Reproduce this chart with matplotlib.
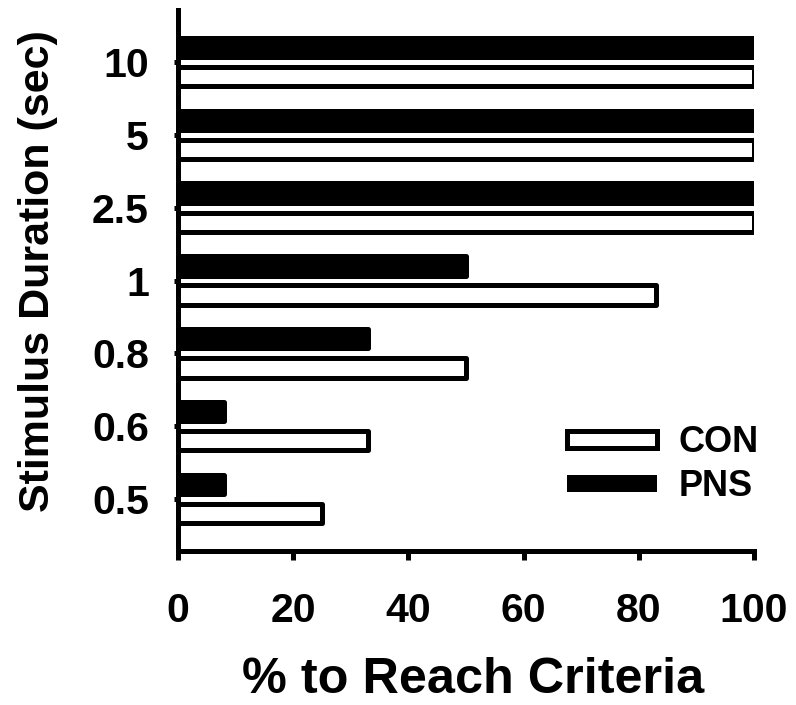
import matplotlib
matplotlib.use("Agg")
import matplotlib.pyplot as plt
from matplotlib.patches import Patch
import numpy as np

plt.rcParams['font.family'] = ['Liberation Sans', 'DejaVu Sans']
plt.rcParams['font.weight'] = 'bold'

categories = ['0.5', '0.6', '0.8', '1', '2.5', '5', '10']
con_values = [25, 33, 50, 83, 100, 100, 100]
pns_values = [8, 8, 33, 50, 100, 100, 100]
x_ticks = [0, 20, 40, 60, 80, 100]

fig = plt.figure(figsize=(7.96, 7.05), dpi=100)
ax = fig.add_axes([178/796, 1-551/705, (754-178)/796, (551-10)/705])

y = np.arange(len(categories))
h = 0.265
lw = 3.6
ax.barh(y - 0.2, con_values, height=h, color='white', edgecolor='black',
        linewidth=lw, joinstyle='round', label='CON')
ax.barh(y + 0.2, pns_values, height=h, color='black', edgecolor='black',
        linewidth=lw, joinstyle='round', label='PNS')

ax.set_xlim(0, 100)
ax.set_ylim(-0.714, 6.714)
ax.set_yticks(y)
ax.set_yticklabels(categories)
ax.set_xticks(x_ticks)

for s in ['top', 'right']:
    ax.spines[s].set_visible(False)
for s in ['left', 'bottom']:
    ax.spines[s].set_linewidth(3.6)
    ax.spines[s].set_capstyle('projecting')

ax.tick_params(axis='y', length=3, width=3.6, pad=18, labelsize=29.5)
ax.tick_params(axis='x', length=6.5, width=3.6, pad=23, labelsize=29.5)
for lab in ax.get_xticklabels() + ax.get_yticklabels():
    lab.set_fontweight('bold')

ax.set_xlabel('% to Reach Criteria', fontsize=36.3, fontweight='bold')
ax.xaxis.set_label_coords(0.513, (551-680)/541)
ax.xaxis.label.set_verticalalignment('center')
ax.set_ylabel('Stimulus Duration (sec)', fontsize=31, fontweight='bold')
ax.yaxis.set_label_coords((38-178)/576, (551-271)/541)
ax.yaxis.label.set_verticalalignment('center')

handles = [Patch(facecolor='white', edgecolor='black', linewidth=lw),
           Patch(facecolor='black', edgecolor='black', linewidth=0)]
leg = ax.legend(handles, ['CON', 'PNS'], loc='center left',
                bbox_to_anchor=(0.675, 0.159), frameon=False,
                fontsize=26, handlelength=2.5, handleheight=0.37,
                handletextpad=0.6, labelspacing=0.25,
                borderpad=0, borderaxespad=0)
for t in leg.get_texts():
    t.set_fontweight('bold')

fig.savefig('out.png', dpi=100)
